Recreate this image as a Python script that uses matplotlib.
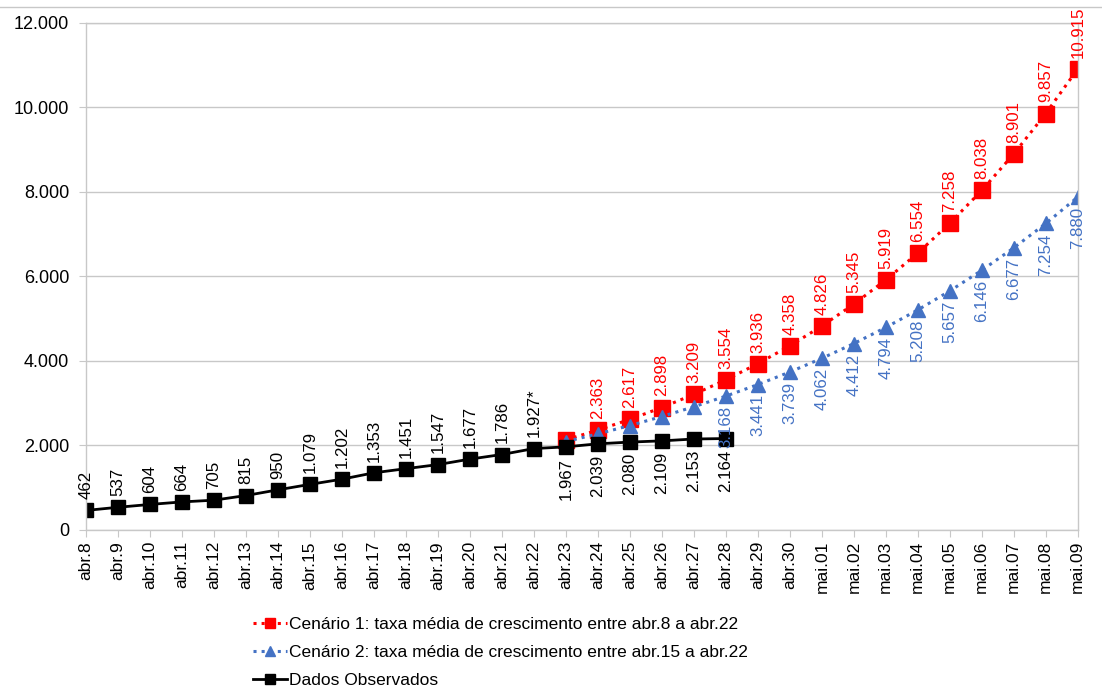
import matplotlib
matplotlib.use('Agg')
import matplotlib.pyplot as plt
from matplotlib.lines import Line2D
from matplotlib.ticker import FuncFormatter

plt.rcParams['font.family'] = ['Liberation Sans', 'DejaVu Sans']

# datas do eixo x
dias = ['abr.%d' % d for d in range(8, 31)] + ['mai.%02d' % d for d in range(1, 10)]

# casos observados (abr.8 a abr.28)
observados = [462, 537, 604, 664, 705, 815, 950, 1079, 1202, 1353, 1451, 1547,
              1677, 1786, 1927, 1967, 2039, 2080, 2109, 2153, 2164]
sufixoObs = {14: '*'}

# projeções a partir de abr.23
cenario1 = [2134, 2363, 2617, 2898, 3209, 3554, 3936, 4358, 4826, 5345, 5919,
            6554, 7258, 8038, 8901, 9857, 10915]
cenario2 = [2093, 2275, 2471, 2685, 2916, 3168, 3441, 3739, 4062, 4412, 4794,
            5208, 5657, 6146, 6677, 7254, 7880]
inicioProj = 15

VERMELHO = '#ff0000'
AZUL = '#4472c4'
CINZA = '#c8c8c8'
FS_ROT = 12.2


def fmt(v):
    return f'{int(v):,}'.replace(',', '.')


fig = plt.figure(figsize=(11.02, 6.88), dpi=100)
ax = fig.add_axes([0.078, 0.2297, 0.9, 0.7369])

xObs = list(range(len(observados)))
xProj = list(range(inicioProj, inicioProj + len(cenario1)))

l1, = ax.plot(xProj, cenario1, ':', color=VERMELHO, lw=2.2, marker='s', ms=11,
              label='Cenário 1: taxa média de crescimento entre abr.8 a abr.22')
l2, = ax.plot(xProj, cenario2, ':', color=AZUL, lw=2.2, marker='^', ms=9.5,
              label='Cenário 2: taxa média de crescimento entre abr.15 a abr.22')
l3, = ax.plot(xObs, observados, '-', color='black', lw=2, marker='s', ms=10,
              label='Dados Observados')

# rótulos de dados
for i, v in enumerate(observados):
    txt = fmt(v) + sufixoObs.get(i, '')
    if i < inicioProj:
        ax.annotate(txt, (i, v), xytext=(0, 8), textcoords='offset points',
                    rotation=90, ha='center', va='bottom', fontsize=FS_ROT)
    else:
        ax.annotate(txt, (i, v), xytext=(0, -8), textcoords='offset points',
                    rotation=90, ha='center', va='top', fontsize=FS_ROT)

for x, v in list(zip(xProj, cenario1))[1:]:
    ax.annotate(fmt(v), (x, v), xytext=(0, 8), textcoords='offset points',
                rotation=90, ha='center', va='bottom', fontsize=FS_ROT, color=VERMELHO)

for x, v in list(zip(xProj, cenario2))[5:]:
    ax.annotate(fmt(v), (x, v), xytext=(0, -7), textcoords='offset points',
                rotation=90, ha='center', va='top', fontsize=FS_ROT, color=AZUL)

ax.set_xlim(0, len(dias) - 1)
ax.set_ylim(0, 12000)
ax.set_xticks(range(len(dias)))
ax.set_xticklabels(dias, rotation=90, fontsize=12.5)
ax.set_yticks(range(0, 12001, 2000))
ax.yaxis.set_major_formatter(FuncFormatter(lambda v, p: fmt(v)))
ax.tick_params(axis='y', labelsize=13, length=5, color=CINZA, pad=7)
ax.tick_params(axis='x', length=5, color=CINZA, pad=3)
ax.grid(axis='y', color=CINZA, lw=1)
ax.set_axisbelow(True)
for s in ax.spines.values():
    s.set_color(CINZA)
    s.set_linewidth(1)

fig.legend(handles=[l1, l2, l3], loc='upper left', bbox_to_anchor=(0.2296, 0.104),
           frameon=False, fontsize=12.5, handlelength=1.95, handletextpad=0.1,
           labelspacing=0.75, borderaxespad=0, borderpad=0, markerscale=0.7)

fig.add_artist(Line2D([0, 1], [0.99, 0.99], transform=fig.transFigure,
                      color=CINZA, lw=1))

fig.savefig('out.png', dpi=100, facecolor='white')
